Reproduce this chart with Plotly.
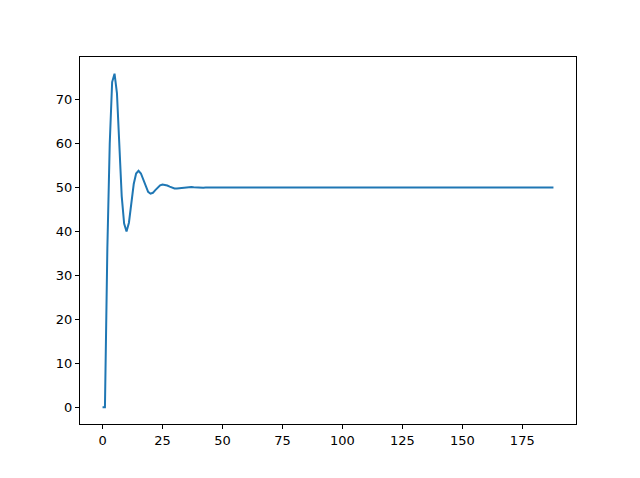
import plotly.graph_objects as go

# step index (x) and response values (y)
y_head = [0.0, 0.0, 36.0, 60.0, 74.0, 75.9, 71.5, 60.5, 48.0, 41.8,
          40.0, 42.0, 46.5, 50.8, 53.2, 53.8, 53.2, 51.8, 50.2, 49.0,
          48.6, 48.8, 49.4, 50.0, 50.5, 50.7, 50.65, 50.45, 50.2, 49.95,
          49.8, 49.78, 49.85, 49.95, 50.05, 50.1, 50.12, 50.1, 50.05, 50.0,
          49.97, 49.96, 49.97, 49.99, 50.0, 50.01, 50.01, 50.0, 50.0, 50.0]
y_tail = [50.0] * 139
y_vals = y_head + y_tail
x_vals = list(range(len(y_vals)))

x_ticks = [0, 25, 50, 75, 100, 125, 150, 175]
y_ticks = [0, 10, 20, 30, 40, 50, 60, 70]

fig = go.Figure()
fig.add_trace(go.Scatter(x=x_vals, y=y_vals, mode="lines",
                         line=dict(color="#1f77b4", width=2),
                         hoverinfo="skip", showlegend=False))

axis_common = dict(showgrid=False, zeroline=False, showline=True, linecolor="black",
                   linewidth=1, mirror=True, ticks="outside", ticklen=4, tickwidth=1,
                   tickcolor="black", tickfont=dict(family="DejaVu Sans", size=13, color="black"))

fig.update_layout(
    width=640, height=478,
    margin=dict(l=72, r=72, t=49, b=62),
    paper_bgcolor="white", plot_bgcolor="white",
    xaxis=dict(range=[-9.4, 197.4], tickvals=x_ticks,
               ticktext=[str(v) for v in x_ticks], **axis_common),
    yaxis=dict(range=[-3.8, 79.7], tickvals=y_ticks,
               ticktext=[str(v) for v in y_ticks], **axis_common),
)

fig.write_html("out.html")
